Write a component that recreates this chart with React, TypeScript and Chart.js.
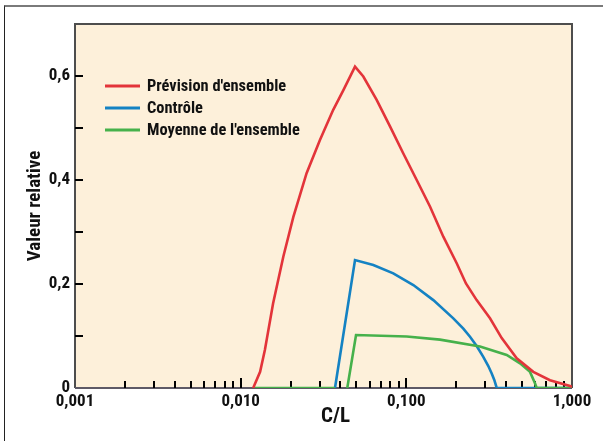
import React, { useEffect, useRef } from "react";
import { Chart, registerables } from "chart.js";

Chart.register(...registerables);

// ---- data ----
const seriesLabels = ["Prévision d'ensemble", "Contrôle", "Moyenne de l'ensemble"];

const redX = [0.0119, 0.0131, 0.014, 0.0157, 0.0181, 0.0208, 0.025, 0.0301, 0.0362, 0.0417, 0.049, 0.055, 0.0662, 0.0797, 0.0959, 0.1155, 0.1389, 0.1672, 0.2014, 0.229, 0.2658, 0.3199, 0.3765, 0.4637, 0.584, 0.7364, 0.9725, 1.0];
const redY = [0, 0.031, 0.073, 0.163, 0.253, 0.329, 0.413, 0.477, 0.535, 0.573, 0.618, 0.599, 0.554, 0.503, 0.451, 0.4, 0.349, 0.291, 0.24, 0.201, 0.169, 0.134, 0.096, 0.057, 0.031, 0.015, 0.004, 0.002];

const blueX = [0.0371, 0.049, 0.0632, 0.0834, 0.1102, 0.1455, 0.1921, 0.2208, 0.2423, 0.2658, 0.2914, 0.3125, 0.3276, 0.3396, 0.3512, 1.0];
const blueY = [0, 0.246, 0.2365, 0.2205, 0.198, 0.169, 0.134, 0.114, 0.0985, 0.0808, 0.06, 0.0423, 0.028, 0.0154, 0, 0];

const greenX = [0.0119, 0.0371, 0.04, 0.044, 0.0497, 0.1005, 0.1597, 0.2784, 0.4035, 0.4856, 0.5578, 0.5978, 0.612, 1.0];
const greenY: (number | null)[] = [0, 0, null, 0, 0.102, 0.099, 0.093, 0.08, 0.0635, 0.0475, 0.031, 0.009, 0, 0];

const xLabelTicks = [0.001, 0.01, 0.1, 1];
const xLabelText = ["0,001", "0,010", "0,100", "1,000"];
const xDecades = [0.001, 0.01, 0.1];
const xMultipliers = [2, 3, 4, 5, 6, 7, 8, 9];
const yMinorTicks = [0.1, 0.2, 0.3, 0.4, 0.5, 0.6];
const yLabelTicks = [0, 0.2, 0.4, 0.6];
const yLabelText = ["0", "0,2", "0,4", "0,6"];

const xTitle = "C/L";
const yTitle = "Valeur relative";

// ---- styles ----
const RED = "#e3343a";
const BLUE = "#1482c3";
const GREEN = "#46b14b";
const BG = "#fdf0da";
const FONT = "'Roboto Condensed', 'Open Sans Condensed', sans-serif";

const pts = (xs: number[], ys: (number | null)[]) => xs.map((x, i) => ({ x, y: ys[i] }));

const bgPlugin = {
  id: "bgPlugin",
  beforeDraw(chart: any) {
    const { ctx, chartArea: a } = chart;
    ctx.save();
    ctx.fillStyle = BG;
    ctx.fillRect(a.left, a.top, a.right - a.left, a.bottom - a.top);
    ctx.restore();
  },
  beforeDatasetsDraw(chart: any) {
    const { ctx, chartArea: a, scales } = chart;
    const xs = scales.x;
    const ys = scales.y;
    ctx.save();
    // frame
    ctx.lineWidth = 2;
    ctx.strokeStyle = "#4d4d4d";
    ctx.beginPath();
    ctx.moveTo(a.left, a.bottom);
    ctx.lineTo(a.left, a.top);
    ctx.lineTo(a.right, a.top);
    ctx.lineTo(a.right, a.bottom);
    ctx.stroke();
    ctx.strokeStyle = "#5e5a66";
    ctx.beginPath();
    ctx.moveTo(a.left, a.bottom);
    ctx.lineTo(a.right, a.bottom);
    ctx.stroke();
    // inner ticks
    ctx.strokeStyle = "#000";
    ctx.lineWidth = 2;
    ctx.beginPath();
    xDecades.forEach((d) => {
      xMultipliers.forEach((m) => {
        const px = Math.round(xs.getPixelForValue(d * m));
        ctx.moveTo(px, a.bottom);
        ctx.lineTo(px, a.bottom - 7);
      });
    });
    [0.01, 0.1].forEach((v) => {
      const px = Math.round(xs.getPixelForValue(v));
      ctx.moveTo(px, a.bottom);
      ctx.lineTo(px, a.bottom - 10);
    });
    yMinorTicks.forEach((v) => {
      const py = Math.round(ys.getPixelForValue(v));
      ctx.moveTo(a.left, py);
      ctx.lineTo(a.left + 8, py);
    });
    ctx.stroke();
    ctx.restore();
  },
  afterDatasetsDraw(chart: any) {
    const { ctx, chartArea: a } = chart;
    ctx.save();
    ctx.font = `bold 16.4px ${FONT}`;
    ctx.textBaseline = "middle";
    ctx.fillStyle = "#111";
    chart.data.datasets.forEach((ds: any, i: number) => {
      const y = a.top + 62 + i * 22;
      ctx.strokeStyle = ds.borderColor;
      ctx.lineWidth = 3;
      ctx.beginPath();
      ctx.moveTo(a.left + 30, y);
      ctx.lineTo(a.left + 65, y);
      ctx.stroke();
      ctx.fillText(ds.label, a.left + 72, y + 1);
    });
    // x axis title (set slightly right of centre as in the source)
    ctx.font = `bold 21px ${FONT}`;
    ctx.textAlign = "center";
    ctx.textBaseline = "middle";
    ctx.fillText(xTitle, (a.left + a.right) / 2 + 12, a.bottom + 29);
    ctx.restore();
  },
};

export default function App() {
  const ref = useRef<HTMLCanvasElement | null>(null);
  useEffect(() => {
    if (!ref.current) return;
    const chart = new Chart(ref.current, {
      type: "line",
      data: {
        datasets: [
          { label: seriesLabels[0], data: pts(redX, redY), borderColor: RED, borderWidth: 2.6, pointRadius: 0, order: 0, spanGaps: false },
          { label: seriesLabels[1], data: pts(blueX, blueY), borderColor: BLUE, borderWidth: 2.6, pointRadius: 0, order: 2, spanGaps: false },
          { label: seriesLabels[2], data: pts(greenX, greenY), borderColor: GREEN, borderWidth: 2.6, pointRadius: 0, order: 1, spanGaps: false },
        ] as any,
      },
      options: {
        responsive: false,
        animation: false,
        layout: { padding: { left: 0, right: 31, top: 24, bottom: 0 } },
        plugins: { legend: { display: false }, tooltip: { enabled: false } },
        scales: {
          x: {
            type: "logarithmic",
            min: 0.001,
            max: 1,
            grid: { display: false, drawTicks: false },
            border: { display: false },
            afterBuildTicks: (scale: any) => {
              scale.ticks = xLabelTicks.map((v) => ({ value: v }));
            },
            afterFit: (scale: any) => {
              scale.height = 53;
            },
            ticks: {
              autoSkip: false,
              maxRotation: 0,
              padding: 4,
              color: "#111",
              font: { family: FONT, size: 17, weight: "bold" },
              callback: (v: any) => {
                const i = xLabelTicks.findIndex((t) => Math.abs(Math.log10(t) - Math.log10(Number(v))) < 1e-6);
                return i >= 0 ? xLabelText[i] : "";
              },
            },
            title: { display: false, text: xTitle },
          },
          y: {
            type: "linear",
            min: 0,
            max: 0.7,
            grid: { display: false, drawTicks: false },
            border: { display: false },
            afterBuildTicks: (scale: any) => {
              scale.ticks = yLabelTicks.map((v) => ({ value: v }));
            },
            afterFit: (scale: any) => {
              scale.width = 75;
            },
            ticks: {
              autoSkip: false,
              padding: 5,
              color: "#111",
              font: { family: FONT, size: 17, weight: "bold" },
              callback: (v: any) => {
                const i = yLabelTicks.findIndex((t) => Math.abs(t - Number(v)) < 1e-6);
                return i >= 0 ? yLabelText[i] : "";
              },
            },
            title: {
              display: true,
              text: yTitle,
              color: "#111",
              font: { family: FONT, size: 19, weight: "bold" },
              padding: { top: 24, bottom: 0 },
            },
          },
        },
      } as any,
      plugins: [bgPlugin],
    });
    return () => chart.destroy();
  }, []);

  return (
    <div style={{ position: "fixed", left: 0, top: 0, width: 603, height: 441, background: "#fff", overflow: "hidden" }}>
      <div
        style={{
          position: "absolute",
          left: 4,
          top: 5,
          right: 0,
          bottom: -4,
          borderTop: "2px solid #7a7a7a",
          borderLeft: "1px solid #222",
        }}
      />
      <canvas ref={ref} width={603} height={441} style={{ position: "absolute", left: 0, top: 0 }} />
    </div>
  );
}
